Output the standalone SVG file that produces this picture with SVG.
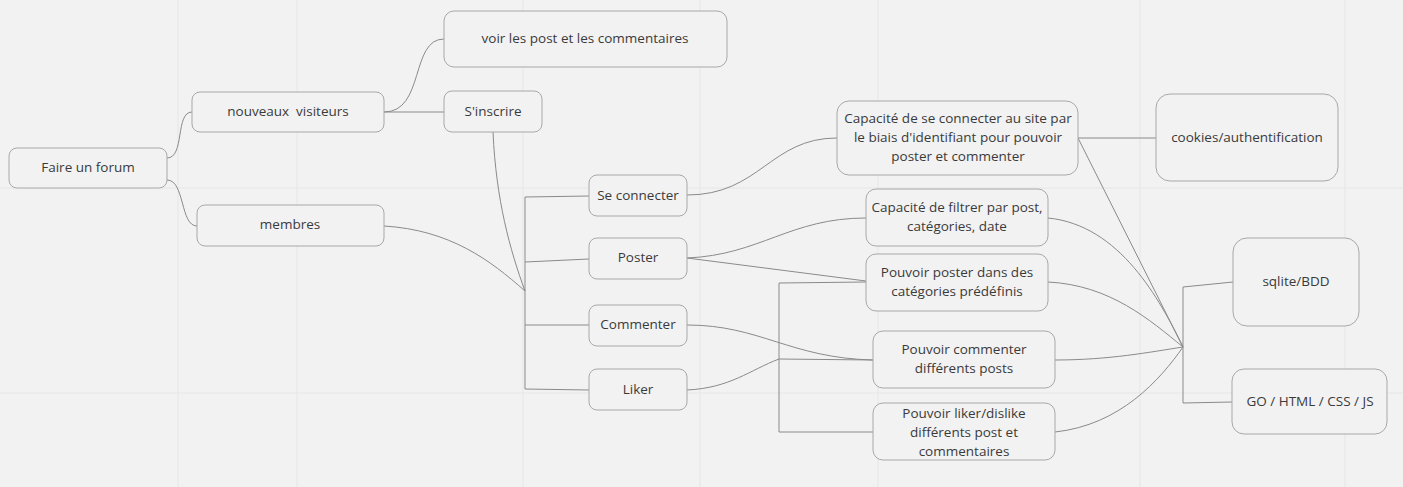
<svg xmlns="http://www.w3.org/2000/svg" width="1403" height="487" viewBox="0 0 1403 487">
<style>
.bg{fill:#f2f2f2}
.grid{stroke:#e6e6e6;stroke-width:1;fill:none}
.box{fill:#f2f2f2;stroke:#a8a8a8;stroke-width:1}
.t{font-family:"Open Sans","Liberation Sans",sans-serif;font-size:13.5px;fill:#3a3a3a;text-anchor:middle;white-space:pre}
.c{fill:none;stroke:#8a8a8a;stroke-width:1}
</style>
<rect class="bg" x="0" y="0" width="1403" height="487"/>
<g id="grid">
<path class="grid" d="M0,188H1403M0,393H1403M178,0V487M297,0V487M523,0V487M700,0V487M878,0V487M1140,0V487M1345,0V487"/>
</g>
<g id="connectors">
<path class="c" d="M167,158 C185,158 175,112 192,112"/>
<path class="c" d="M167,180 C185,180 180,226 197,226"/>
<path class="c" d="M384,112 C425,112 410,39 444,39"/>
<path class="c" d="M384,112 L444,112"/>
<path class="c" d="M493,132 C496,200 510,250 525,291"/>
<path class="c" d="M384,226 C450,230 490,260 525,291"/>
<path class="c" d="M589,196 L525,197 L525,389 L589,390"/>
<path class="c" d="M525,262 L589,259"/>
<path class="c" d="M525,325 L589,325"/>
<path class="c" d="M687,195 C760,195 770,138 837,138"/>
<path class="c" d="M687,258 C760,255 790,218 866,218"/>
<path class="c" d="M687,258 L866,281"/>
<path class="c" d="M866,282 L779,283 L779,432 L873,432"/>
<path class="c" d="M779,359 L873,360"/>
<path class="c" d="M687,390 C730,388 750,370 779,359"/>
<path class="c" d="M687,325 C760,325 790,358 873,360"/>
<path class="c" d="M1078,138 L1156,138"/>
<path class="c" d="M1078,138 L1183,347"/>
<path class="c" d="M1048,218 C1120,225 1160,300 1183,347"/>
<path class="c" d="M1048,282 C1110,285 1150,320 1183,347"/>
<path class="c" d="M1055,360 C1110,360 1150,352 1183,347"/>
<path class="c" d="M1055,432 C1120,425 1160,380 1183,347"/>
<path class="c" d="M1233,282 L1183,287 L1183,403 L1232,402"/>
</g>
<g id="n-forum"><rect class="box" x="9" y="148" width="158" height="40" rx="8"/><text class="t" x="88" y="172">Faire un forum</text></g>
<g id="n-visiteurs"><rect class="box" x="192" y="92" width="192" height="40" rx="8"/><text class="t" x="288" y="116" xml:space="preserve">nouveaux  visiteurs</text></g>
<g id="n-membres"><rect class="box" x="197" y="205" width="187" height="41" rx="8"/><text class="t" x="290" y="229">membres</text></g>
<g id="n-voir"><rect class="box" x="444" y="11" width="283" height="56" rx="10"/><text class="t" x="585" y="43">voir les post et les commentaires</text></g>
<g id="n-inscrire"><rect class="box" x="444" y="91" width="98" height="41" rx="8"/><text class="t" x="493" y="116">S'inscrire</text></g>
<g id="n-connecter"><rect class="box" x="589" y="175" width="98" height="41" rx="8"/><text class="t" x="638" y="200">Se connecter</text></g>
<g id="n-poster"><rect class="box" x="589" y="238" width="98" height="41" rx="8"/><text class="t" x="638" y="262">Poster</text></g>
<g id="n-commenter"><rect class="box" x="589" y="305" width="98" height="41" rx="8"/><text class="t" x="638" y="329">Commenter</text></g>
<g id="n-liker"><rect class="box" x="589" y="369" width="98" height="41" rx="8"/><text class="t" x="638" y="394">Liker</text></g>
<g id="n-capconnect"><rect class="box" x="837" y="101" width="241" height="74" rx="12"/><text class="t" x="958" y="123">Capacité de se connecter au site par</text><text class="t" x="958" y="142">le biais d'identifiant pour pouvoir</text><text class="t" x="958" y="161">poster et commenter</text></g>
<g id="n-filtrer"><rect class="box" x="866" y="189" width="182" height="57" rx="10"/><text class="t" x="957" y="212">Capacité de filtrer par post,</text><text class="t" x="957" y="231">catégories, date</text></g>
<g id="n-pposter"><rect class="box" x="866" y="254" width="182" height="57" rx="10"/><text class="t" x="957" y="277">Pouvoir poster dans des</text><text class="t" x="957" y="296">catégories prédéfinis</text></g>
<g id="n-pcommenter"><rect class="box" x="873" y="331" width="182" height="57" rx="10"/><text class="t" x="964" y="354">Pouvoir commenter</text><text class="t" x="964" y="373">différents posts</text></g>
<g id="n-pliker"><rect class="box" x="873" y="403" width="182" height="57" rx="10"/><text class="t" x="964" y="418">Pouvoir liker/dislike</text><text class="t" x="964" y="437">différents post et</text><text class="t" x="964" y="456">commentaires</text></g>
<g id="n-cookies"><rect class="box" x="1156" y="94" width="182" height="87" rx="14"/><text class="t" x="1247" y="142">cookies/authentification</text></g>
<g id="n-sqlite"><rect class="box" x="1233" y="238" width="126" height="88" rx="14"/><text class="t" x="1296" y="286">sqlite/BDD</text></g>
<g id="n-go"><rect class="box" x="1232" y="369" width="155" height="65" rx="12"/><text class="t" x="1310" y="406">GO / HTML / CSS / JS</text></g>
</svg>
